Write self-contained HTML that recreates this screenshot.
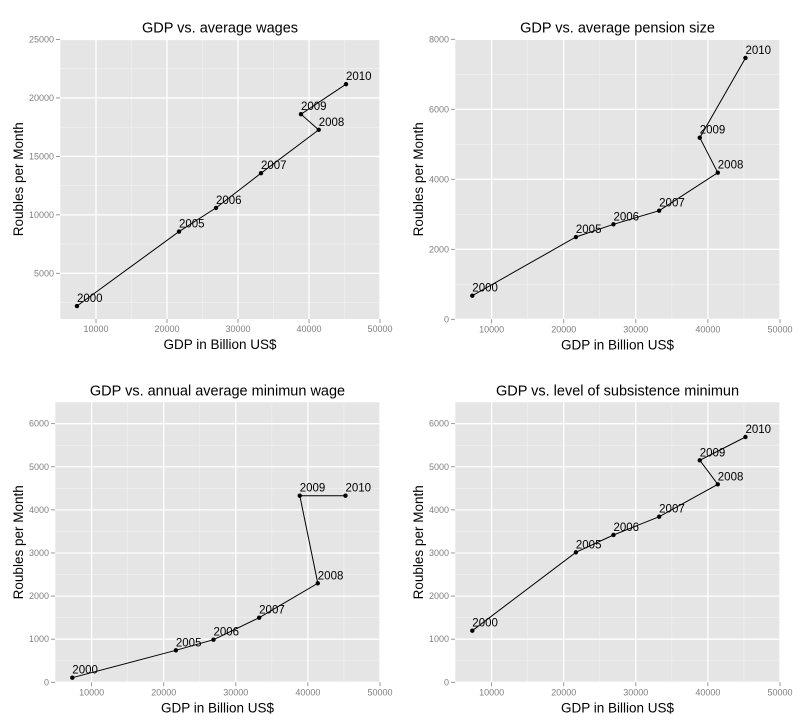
<!DOCTYPE html>
<html><head><meta charset="utf-8">
<style>
html,body{margin:0;padding:0;background:#fff;}
svg{display:block;font-family:"Liberation Sans",sans-serif;}
</style></head>
<body>
<svg id="chart" width="800" height="725" viewBox="0 0 800 725" xmlns="http://www.w3.org/2000/svg"></svg>
<script>
const years = ["2000","2005","2006","2007","2008","2009","2010"];
const gdp = [7320, 21690, 26900, 33240, 41370, 38870, 45210];
const wages = [2200, 8570, 10590, 13560, 17270, 18610, 21180];
const pension = [674, 2351, 2714, 3103, 4189, 5189, 7466];
const minWage = [107, 742, 988, 1499, 2297, 4330, 4330];
const subsistence = [1197, 3016, 3418, 3842, 4594, 5151, 5691];
const xTicks = [10000, 20000, 30000, 40000, 50000];
const yTicks1 = [5000, 10000, 15000, 20000, 25000];
const yTicks2 = [0, 2000, 4000, 6000, 8000];
const yTicks34 = [0, 1000, 2000, 3000, 4000, 5000, 6000];
const titles = ["GDP vs. average wages","GDP vs. average pension size","GDP vs. annual average minimun wage","GDP vs. level of subsistence minimun"];

const NS="http://www.w3.org/2000/svg";
const svg=document.getElementById('chart');
function mk(tag,attrs,parent){const e=document.createElementNS(NS,tag);for(const k in attrs)e.setAttribute(k,attrs[k]);(parent||svg).appendChild(e);return e;}

const panels=[
 {key:'wages',title:titles[0],vals:wages,yt:yTicks1,box:[60,39.5,380,319],xd:[4930,50000],yd:[1090,25000]},
 {key:'pension',title:titles[1],vals:pension,yt:yTicks2,box:[455,39.3,780,319.3],xd:[4920,50000],yd:[0,8000]},
 {key:'min-wage',title:titles[2],vals:minWage,yt:yTicks34,box:[55,402.3,380,682.3],xd:[4920,50000],yd:[0,6496]},
 {key:'subsistence',title:titles[3],vals:subsistence,yt:yTicks34,box:[455,402.3,780,682.3],xd:[4920,50000],yd:[0,6496]}
];

panels.forEach(p=>{
  const [x0,y0,x1,y1]=p.box;
  const sx=v=>x0+(v-p.xd[0])/(p.xd[1]-p.xd[0])*(x1-x0);
  const sy=v=>y1-(v-p.yd[0])/(p.yd[1]-p.yd[0])*(y1-y0);
  const g=mk('g',{});
  
  
  const bg=mk('rect',{x:x0,y:y0,width:x1-x0,height:y1-y0,fill:'#e5e5e5'},g);
  
  
  const step=p.yt[1]-p.yt[0];
  for(let v=p.yt[0]-step/2; v<=p.yd[1]; v+=step){ if(v<p.yd[0])continue;
    const l=mk('line',{x1:x0,x2:x1,y1:sy(v),y2:sy(v),stroke:'#f2f2f2','stroke-width':0.6},g);
    
    
  }
  for(let v=5000; v<=50000; v+=10000){ if(v<p.xd[0])continue;
    const l=mk('line',{x1:sx(v),x2:sx(v),y1:y0,y2:y1,stroke:'#f2f2f2','stroke-width':0.6},g);
    
    
  }
  p.yt.forEach(v=>{
    const y=sy(v);
    const l=mk('line',{x1:x0,x2:x1,y1:y,y2:y,stroke:'#fff','stroke-width':1.3},g);
    
    
    const t=mk('line',{x1:x0-4,x2:x0,y1:y,y2:y,stroke:'#7f7f7f','stroke-width':0.8},g);
    
    
    const tx=mk('text',{x:x0-6,y:y+3,'text-anchor':'end','font-size':'9','fill':'#7f7f7f'},g);
    tx.textContent=v;
    
    
  });
  xTicks.forEach(v=>{
    const x=sx(v);
    const l=mk('line',{x1:x,x2:x,y1:y0,y2:y1,stroke:'#fff','stroke-width':1.3},g);
    
    
    const t=mk('line',{x1:x,x2:x,y1:y1,y2:y1+4,stroke:'#7f7f7f','stroke-width':0.8},g);
    
    
    const tx=mk('text',{x:x,y:y1+13,'text-anchor':'middle','font-size':'9','fill':'#7f7f7f'},g);
    tx.textContent=v;
    
    
  });
  const pts=gdp.map((g2,i)=>sx(g2).toFixed(1)+','+sy(p.vals[i]).toFixed(1)).join(' ');
  const pl=mk('polyline',{points:pts,fill:'none',stroke:'#000','stroke-width':1},g);
  
  
  gdp.forEach((gv,i)=>{
    const c=mk('circle',{cx:sx(gv),cy:sy(p.vals[i]),r:2.2,fill:'#000'},g);
    
    
    const lb=mk('text',{x:sx(gv),y:sy(p.vals[i])-4,'font-size':'11.5',fill:'#000'},g);
    lb.textContent=years[i];
    
    
  });
  const cx=(x0+x1)/2;
  const tt=mk('text',{x:cx,y:y0-7,'text-anchor':'middle','font-size':'14.5',fill:'#000'},g);
  tt.textContent=p.title;
  
  
  const xt=mk('text',{x:cx,y:y1+30,'text-anchor':'middle','font-size':'13.5',fill:'#000'},g);
  xt.textContent='GDP in Billion US$';
  
  
  const yx=(x0<400?0:400)+23, yc=(y0+y1)/2;
  const yt=mk('text',{x:yx,y:yc,'text-anchor':'middle','font-size':'13.5',fill:'#000',transform:`rotate(-90 ${yx} ${yc})`},g);
  yt.textContent='Roubles per Month';
  
  
});
</script>
</body></html>
